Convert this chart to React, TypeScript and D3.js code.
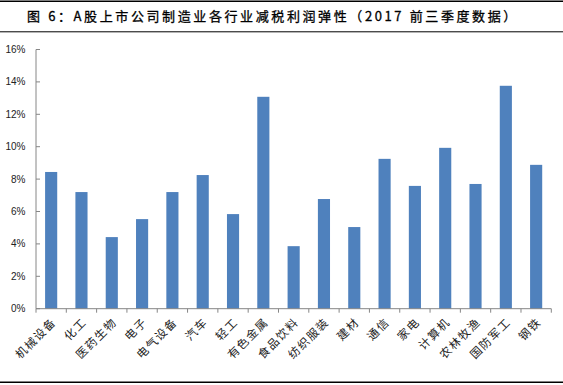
import React from "react";
import * as d3 from "d3";

const title = "图 6：A股上市公司制造业各行业减税利润弹性（2017 前三季度数据）";
const categories = ["机械设备", "化工", "医药生物", "电子", "电气设备", "汽车", "轻工", "有色金属", "食品饮料", "纺织服装", "建材", "通信", "家电", "计算机", "农林牧渔", "国防军工", "钢铁"];
const values = [8.44, 7.2, 4.42, 5.53, 7.2, 8.25, 5.84, 13.08, 3.86, 6.77, 5.04, 9.25, 7.58, 9.93, 7.7, 13.76, 8.88];
const yTicks = [0, 2, 4, 6, 8, 10, 12, 14, 16];

const W = 563;
const H = 385;
const left = 36;
const right = 551.3;
const top = 49.5;
const bottom = 308.7;

export default function App() {
  const x = d3.scaleBand<string>().domain(categories).range([left, right]).paddingInner(0.6).paddingOuter(0.3);
  const y = d3.scaleLinear().domain([0, 16]).range([bottom, top]);
  const step = x.step();
  const boundaries = d3.range(categories.length + 1).map((i) => left + i * step);
  const axisColor = "#868686";
  return (
    <svg width={W} height={H} style={{ position: "absolute", left: 0, top: 0, background: "#fff" }}>
      <line x1={0} x2={W} y1={1.2} y2={1.2} stroke="#000" strokeWidth={1.4} />
      <line x1={0} x2={W} y1={31.8} y2={31.8} stroke="#000" strokeWidth={1} />
      <line x1={0} x2={W} y1={382.2} y2={382.2} stroke="#000" strokeWidth={1.4} />
      <text x={273} y={21} textAnchor="middle" fontFamily="'Noto Sans CJK SC'" fontSize={13} letterSpacing={2.6} fill="#000" stroke="#000" strokeWidth={0.3}>
        {title}
      </text>
      {values.map((v, i) => (
        <rect key={i} x={x(categories[i])} y={y(v)} width={x.bandwidth()} height={bottom - y(v)} fill="#4F81BD" />
      ))}
      <line x1={left} x2={left} y1={top} y2={bottom} stroke={axisColor} strokeWidth={1} />
      <line x1={left} x2={right} y1={bottom} y2={bottom} stroke={axisColor} strokeWidth={1} />
      {yTicks.map((t) => (
        <g key={t}>
          <line x1={left} x2={left + 4} y1={y(t)} y2={y(t)} stroke={axisColor} />
          <text x={25.5} y={y(t)} dy="0.35em" textAnchor="end" fontFamily="'Liberation Sans', Arial" fontSize={10} fill="#222">
            {t}%
          </text>
        </g>
      ))}
      {boundaries.map((b, i) => (
        <line key={i} x1={b} x2={b} y1={bottom} y2={bottom + 4} stroke={axisColor} />
      ))}
      {categories.map((c) => {
        const cx = (x(c) as number) + x.bandwidth() / 2;
        return (
          <text key={c} transform={`translate(${cx + 3},${320}) rotate(-45)`} textAnchor="end" dy="0.35em" fontFamily="'Noto Sans CJK SC'" fontSize={11.5} letterSpacing={1.5} fill="#222">
            {c}
          </text>
        );
      })}
    </svg>
  );
}
